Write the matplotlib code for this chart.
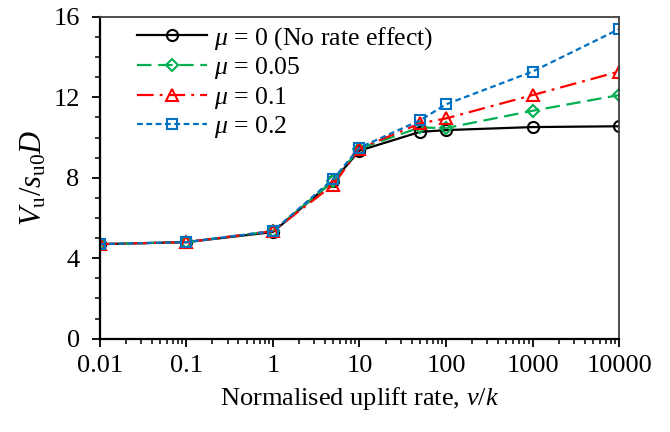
import matplotlib
matplotlib.use("Agg")
import matplotlib.pyplot as plt
from matplotlib.ticker import LogLocator, FixedLocator, NullFormatter, MultipleLocator

plt.rcParams['font.family'] = ['Liberation Serif', 'DejaVu Serif']
plt.rcParams['mathtext.fontset'] = 'custom'
plt.rcParams['mathtext.rm'] = 'Liberation Serif'
plt.rcParams['mathtext.it'] = 'Liberation Serif:italic'
plt.rcParams['mathtext.bf'] = 'Liberation Serif:bold'

x_rate = [0.01, 0.1, 1, 5, 10, 50, 100, 1000, 10000]
mu0 = [4.70, 4.80, 5.30, 7.85, 9.35, 10.28, 10.37, 10.52, 10.56]
mu005 = [4.70, 4.80, 5.35, 7.85, 9.45, 10.50, 10.47, 11.33, 12.11]
mu01 = [4.70, 4.80, 5.35, 7.65, 9.45, 10.70, 10.95, 12.11, 13.28]
mu02 = [4.70, 4.80, 5.35, 7.95, 9.50, 10.85, 11.65, 13.28, 15.39]
labels = [r'$\mu$ = 0 (No rate effect)', r'$\mu$ = 0.05', r'$\mu$ = 0.1', r'$\mu$ = 0.2']
xticks = [0.01, 0.1, 1, 10, 100, 1000, 10000]
xtick_labels = ['0.01', '0.1', '1', '10', '100', '1000', '10000']
yticks = [0, 4, 8, 12, 16]

fig = plt.figure(figsize=(6.7, 4.32), dpi=100)
ax = fig.add_axes([0.149, 0.216, 0.775, 0.745])

ax.plot(x_rate, mu0, color='black', lw=1.6, ls='-', marker='o', ms=8,
        mfc='none', mec='black', mew=1.5, label=labels[0])
ax.plot(x_rate, mu005, color='#00B050', lw=1.6, ls=(0, (6.5, 3)), marker='D', ms=6.5,
        mfc='none', mec='#00B050', mew=1.5, label=labels[1])
ax.plot(x_rate, mu01, color='#FF0000', lw=1.6, ls=(0, (7.5, 2.7, 1.3, 2.7)), marker='^', ms=8,
        mfc='none', mec='#FF0000', mew=1.5, label=labels[2])
ax.plot(x_rate, mu02, color='#0070C0', lw=1.6, ls=(0, (2.6, 1.6)), marker='s', ms=7.5,
        mfc='none', mec='#0070C0', mew=1.5, label=labels[3])

ax.set_xscale('log')
ax.set_xlim(0.01, 10000)
ax.set_ylim(0, 16)
ax.xaxis.set_major_locator(FixedLocator(xticks))
ax.set_xticklabels(xtick_labels)
ax.xaxis.set_minor_locator(LogLocator(base=10, subs=range(2, 10), numticks=20))
ax.xaxis.set_minor_formatter(NullFormatter())
ax.set_yticks(yticks)
ax.yaxis.set_minor_locator(MultipleLocator(1))

ax.tick_params(axis='both', which='major', direction='out', length=5.5, width=1.3,
               labelsize=19, colors='black')
ax.tick_params(axis='x', which='major', pad=6)
ax.tick_params(axis='y', which='major', pad=9)
ax.tick_params(axis='both', which='minor', direction='out', length=3.8, width=1.1)

for side in ['left', 'bottom']:
    ax.spines[side].set_linewidth(1.6)
for side in ['top', 'right']:
    ax.spines[side].set_linewidth(1.3)
    ax.spines[side].set_color('#404040')

ax.set_xlabel(r'Normalised uplift rate, $v/k$', fontsize=19, labelpad=6)
ax.set_ylabel(r'$V_\mathrm{u}/s_\mathrm{u0}D$', fontsize=22)
ax.yaxis.set_label_coords(-0.098, 0.5)

leg = ax.legend(loc='upper left', bbox_to_anchor=(0.056, 1.0), frameon=False,
                fontsize=18.5, handlelength=2.7, handletextpad=0.3,
                labelspacing=0.13, borderaxespad=0.0, borderpad=0.32)

fig.savefig('out.png', dpi=100)
